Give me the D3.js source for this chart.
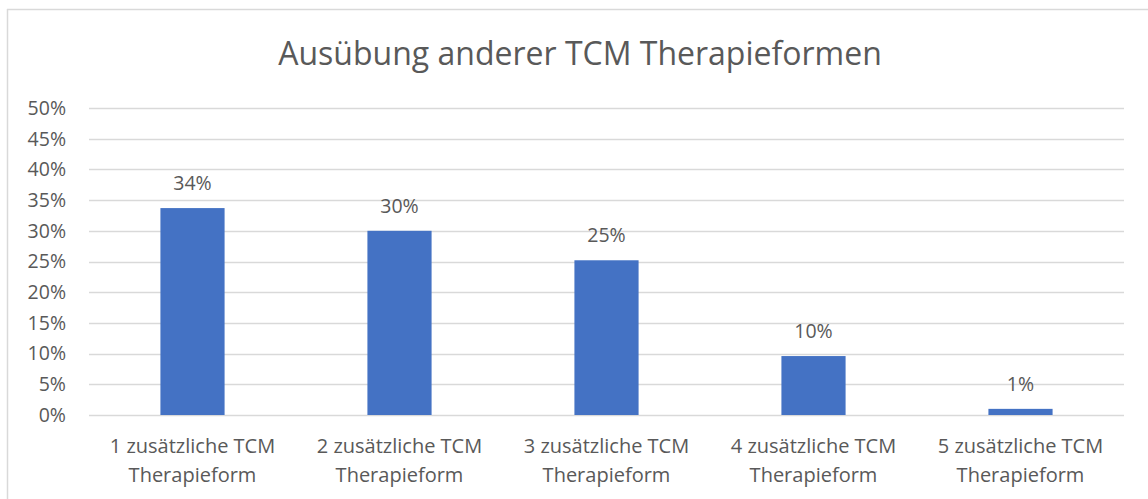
<!DOCTYPE html>
<html>
<head>
<meta charset="utf-8">
<script src="https://cdn.jsdelivr.net/npm/d3@7"></script>
<style>
  body { margin: 0; background: #fff; }
  text { font-family: "Open Sans", "Noto Sans", sans-serif; fill: #595959; }
</style>
</head>
<body>
<svg width="1148" height="499"></svg>
<script>
var categories = ["1 zusätzliche TCM Therapieform", "2 zusätzliche TCM Therapieform",
  "3 zusätzliche TCM Therapieform", "4 zusätzliche TCM Therapieform", "5 zusätzliche TCM Therapieform"];
var values = [33.7, 30.0, 25.2, 9.6, 1.0];
var labels = ["34%", "30%", "25%", "10%", "1%"];
var yTicks = [0, 5, 10, 15, 20, 25, 30, 35, 40, 45, 50];
var title = "Ausübung anderer TCM Therapieformen";

var svg = d3.select("svg");
var width = +svg.attr("width");
var height = +svg.attr("height");

// chart frame (only top and left edges visible)
svg.append("line").attr("x1", 7).attr("x2", width).attr("y1", 9.5).attr("y2", 9.5)
  .attr("stroke", "#d9d9d9").attr("stroke-width", 1.5);
svg.append("line").attr("x1", 7.5).attr("x2", 7.5).attr("y1", 9).attr("y2", height)
  .attr("stroke", "#d9d9d9").attr("stroke-width", 1.5);

var x = d3.scaleBand().domain(categories).range([89, 1124]).paddingInner(0.69).paddingOuter(0.345);
var y = d3.scaleLinear().domain([0, 50]).range([415, 108]);

svg.append("text")
  .attr("x", 580).attr("y", 65)
  .attr("text-anchor", "middle")
  .style("font-size", "32px")
  .text(title);

// gridlines
svg.append("g").selectAll("line")
  .data(yTicks)
  .enter().append("line")
    .attr("x1", 89).attr("x2", 1124)
    .attr("y1", function(d) { return Math.round(y(d)) + 0.5; })
    .attr("y2", function(d) { return Math.round(y(d)) + 0.5; })
    .attr("stroke", "#d9d9d9").attr("stroke-width", 1.5);

// y tick labels
svg.append("g").selectAll("text")
  .data(yTicks)
  .enter().append("text")
    .attr("x", 66)
    .attr("y", function(d) { return y(d); })
    .attr("dy", "0.35em")
    .attr("text-anchor", "end")
    .style("font-size", "19.5px")
    .text(function(d) { return d + "%"; });

// bars
svg.append("g").selectAll("rect")
  .data(values)
  .enter().append("rect")
    .attr("x", function(d, i) { return x(categories[i]); })
    .attr("width", x.bandwidth())
    .attr("y", function(d) { return y(d); })
    .attr("height", function(d) { return y(0) - y(d); })
    .attr("fill", "#4472c4");

// value labels
svg.append("g").selectAll("text")
  .data(values)
  .enter().append("text")
    .attr("x", function(d, i) { return x(categories[i]) + x.bandwidth() / 2; })
    .attr("y", function(d) { return y(d) - 18; })
    .attr("text-anchor", "middle")
    .style("font-size", "19.5px")
    .text(function(d, i) { return labels[i]; });

// category labels, two lines each
var cat = svg.append("g").selectAll("text")
  .data(categories)
  .enter().append("text")
    .attr("x", function(d) { return x(d) + x.bandwidth() / 2; })
    .attr("y", 453)
    .attr("text-anchor", "middle")
    .style("font-size", "20px");
cat.append("tspan")
  .attr("x", function(d) { return x(d) + x.bandwidth() / 2; })
  .text(function(d) { return d.replace(" Therapieform", ""); });
cat.append("tspan")
  .attr("x", function(d) { return x(d) + x.bandwidth() / 2; })
  .attr("dy", 29)
  .text("Therapieform");
</script>
</body>
</html>
